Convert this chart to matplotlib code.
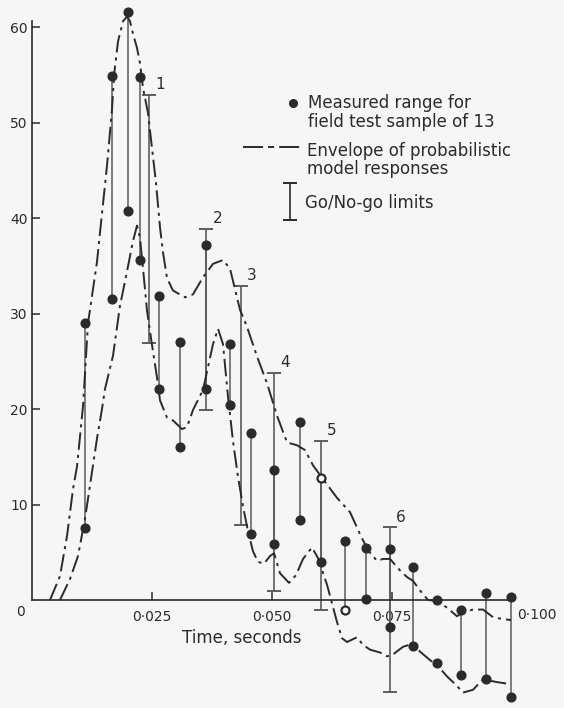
import matplotlib
matplotlib.use("Agg")
import matplotlib.pyplot as plt

# Envelope of probabilistic model responses: upper bound
upper_t = [0.00375, 0.00583, 0.00729, 0.00854, 0.00938, 0.01063, 0.01167, 0.01354,
           0.01417, 0.01563, 0.01667, 0.01708, 0.01792, 0.01896, 0.01979, 0.02042,
           0.02104, 0.02188, 0.02250, 0.02313, 0.02417, 0.02500, 0.02583, 0.02667,
           0.02729, 0.02813, 0.02938, 0.03188, 0.03354, 0.03563, 0.03771, 0.03979,
           0.04125, 0.04333, 0.04479, 0.04688, 0.04896, 0.05104, 0.05313, 0.05521,
           0.05688, 0.05854, 0.06042, 0.06354, 0.06625, 0.06833, 0.07000, 0.07188,
           0.07313, 0.07458, 0.07667, 0.07813, 0.07938, 0.08083, 0.08250, 0.08438,
           0.08646, 0.08854, 0.08979, 0.09188, 0.09396, 0.09604, 0.09813, 0.09979]
upper_v = [0.0, 2.5, 6.7, 11.6, 14.0, 20.3, 29.0, 35.4,
           38.5, 45.5, 51.4, 54.9, 58.5, 60.6, 61.1, 60.6,
           59.3, 57.8, 56.2, 53.6, 51.0, 47.3, 43.7, 39.0,
           36.4, 33.7, 32.4, 31.7, 32.0, 33.8, 35.2, 35.6,
           34.7, 30.4, 28.6, 25.5, 22.7, 19.3, 16.5, 16.2,
           15.7, 14.1, 12.8, 10.7, 9.2, 6.9, 5.2, 4.1,
           4.3, 4.3, 3.1, 2.4, 2.0, 1.0, 0.0, -0.1,
           -0.8, -1.7, -1.3, -1.0, -1.0, -1.8, -2.0, -2.1]

# Envelope of probabilistic model responses: lower bound
lower_t = [0.00583, 0.00792, 0.00958, 0.01104, 0.01250, 0.01354, 0.01458, 0.01521,
           0.01688, 0.01833, 0.01979, 0.02104, 0.02188, 0.02250, 0.02313, 0.02396,
           0.02500, 0.02604, 0.02667, 0.02813, 0.02938, 0.03125, 0.03229, 0.03354,
           0.03563, 0.03771, 0.03875, 0.03979, 0.04083, 0.04188, 0.04292, 0.04396,
           0.04500, 0.04604, 0.04708, 0.04833, 0.04958, 0.05042, 0.05167, 0.05354,
           0.05500, 0.05646, 0.05833, 0.05958, 0.06146, 0.06354, 0.06458, 0.06563,
           0.06771, 0.06896, 0.07042, 0.07250, 0.07396, 0.07521, 0.07729, 0.07917,
           0.08083, 0.08292, 0.08438, 0.08646, 0.08854, 0.08979, 0.09188, 0.09396,
           0.09688, 0.09958]
lower_v = [0.0, 2.2, 4.6, 8.5, 13.4, 16.9, 20.0, 22.1,
           25.6, 30.8, 34.4, 37.6, 39.2, 37.9, 34.7, 30.3,
           26.7, 23.3, 20.9, 19.1, 18.8, 17.9, 18.1, 19.9,
           22.0, 26.8, 28.4, 26.8, 21.3, 16.6, 12.9, 9.8,
           7.2, 5.1, 4.0, 3.8, 4.6, 4.9, 2.8, 1.8,
           2.6, 4.3, 5.5, 4.4, 1.6, -2.3, -4.0, -4.4,
           -3.9, -4.7, -5.2, -5.5, -5.9, -5.7, -4.9, -4.6,
           -5.4, -6.3, -6.8, -8.0, -9.0, -9.7, -9.4, -8.3,
           -8.6, -8.8]

# Measured range for the field test sample (min / max at each time)
range_t = [0.0110, 0.0167, 0.0200, 0.0225, 0.0265, 0.0308, 0.0363, 0.0413,
           0.0456, 0.0504, 0.0558, 0.0602, 0.0652, 0.0696, 0.0746, 0.0794,
           0.0894, 0.0946, 0.0998]
range_lo = [7.5, 31.5, 40.7, 35.6, 22.1, 16.0, 22.1, 20.4,
            6.9, 5.9, 8.4, 4.0, -1.1, 0.1, -2.8, -4.8,
            -7.9, -8.3, -10.2]
range_hi = [29.0, 54.9, 61.6, 54.8, 31.8, 27.0, 37.2, 26.8,
            17.5, 13.6, 18.6, 12.8, 6.2, 5.4, 5.3, 3.5,
            -1.0, 0.7, 0.3]

# Single measurements drawn without a stem
single_t = [0.0844, 0.0844]
single_v = [0.0, -6.6]

# Measurements drawn as hollow points
open_t = [0.0602, 0.0652]
open_v = [12.8, -1.1]

# Go/No-go limits
limit_id = ["1", "2", "3", "4", "5", "6"]
limit_t = [0.0244, 0.0363, 0.0435, 0.0504, 0.0602, 0.0746]
limit_lo = [26.9, 19.9, 7.9, 0.9, -1.1, -9.6]
limit_hi = [52.9, 38.9, 32.9, 23.8, 16.7, 7.6]

# Axis ticks
yticks = [10, 20, 30, 40, 50, 60]
xticks = [0.025, 0.050, 0.075]
xtick_labels = ["0·025", "0·050", "0·075"]

INK = "#2b2b2b"
STEM = "#5c5c5c"
BG = "#f6f6f6"
DASHDOT = (9, 2.6, 1.6, 2.6)
TXT = 12

plt.rcParams["font.family"] = ["DejaVu Sans"]

fig = plt.figure(figsize=(5.64, 7.08), dpi=100, facecolor=BG)
ax = fig.add_axes([0, 0, 1, 1], facecolor=BG)
ax.set_xlim(-0.006667, 0.110833)
ax.set_ylim(-11.31, 62.83)

# Axes lines
for side in ("top", "right"):
    ax.spines[side].set_visible(False)
ax.spines["left"].set_position(("data", 0))
ax.spines["bottom"].set_position(("data", 0))
ax.spines["left"].set_bounds(0, 60.6)
ax.spines["bottom"].set_bounds(0, 0.0998)
for side in ("left", "bottom"):
    ax.spines[side].set_color(INK)
    ax.spines[side].set_linewidth(1.2)

ax.set_yticks(yticks)
ax.set_yticklabels([str(v) for v in yticks])
ax.set_xticks(xticks)
ax.set_xticklabels(xtick_labels)
ax.tick_params(axis="y", direction="in", length=6, width=1.1, pad=3,
               colors=INK, labelsize=10)
ax.tick_params(axis="x", direction="in", length=6, width=1.1, pad=7,
               colors=INK, labelsize=10)
ax.text(-0.0023, -1.25, "0", ha="center", va="center", fontsize=10, color=INK)
ax.text(0.1052, -1.6, "0·100", ha="center", va="center", fontsize=10, color=INK)
ax.text(0.0437, -3.95, "Time, seconds", ha="center", va="center",
        fontsize=TXT, color=INK)

# Envelopes
ax.plot(upper_t, upper_v, color=INK, lw=1.4, dashes=DASHDOT, zorder=3)
ax.plot(lower_t, lower_v, color=INK, lw=1.4, dashes=DASHDOT, zorder=3)

# Measured ranges
ax.vlines(range_t, range_lo, range_hi, color=STEM, lw=1.1, zorder=2)
ax.plot(range_t, range_lo, "o", color=INK, ms=6.3, zorder=5)
ax.plot(range_t, range_hi, "o", color=INK, ms=6.3, zorder=5)
ax.plot(single_t, single_v, "o", color=INK, ms=6.3, zorder=5)
ax.plot(open_t, open_v, "o", mfc=BG, mec=INK, mew=1.3, ms=5.5, zorder=6)

# Go/No-go limits
ax.vlines(limit_t, limit_lo, limit_hi, color=STEM, lw=1.2, zorder=2)
ax.plot(limit_t, limit_lo, "_", color=STEM, ms=10, mew=1.4, zorder=2)
ax.plot(limit_t, limit_hi, "_", color=STEM, ms=10, mew=1.4, zorder=2)
for lab, t, hi in zip(limit_id, limit_t, limit_hi):
    ax.annotate(lab, (t, hi), xytext=(8, 7.5), textcoords="offset points",
                ha="center", va="center", fontsize=11, color=INK)

# Key
tr = ax.transAxes
ax.plot([0.5195], [0.8545], "o", color=INK, ms=5.5, transform=tr)
ax.text(0.546, 0.8545, "Measured range for", transform=tr, ha="left",
        va="center", fontsize=TXT, color=INK)
ax.text(0.546, 0.8270, "field test sample of 13", transform=tr, ha="left",
        va="center", fontsize=TXT, color=INK)
ax.plot([0.431, 0.532], [0.7924, 0.7924], color=INK, lw=1.4,
        dashes=(10.3, 2.6, 3.1, 2.6), transform=tr)
ax.text(0.5443, 0.7867, "Envelope of probabilistic", transform=tr, ha="left",
        va="center", fontsize=TXT, color=INK)
ax.text(0.5443, 0.7620, "model responses", transform=tr, ha="left",
        va="center", fontsize=TXT, color=INK)
ax.plot([0.5142, 0.5142], [0.6893, 0.7415], color=INK, lw=1.2, transform=tr)
ax.plot([0.5142, 0.5142], [0.6893, 0.7415], "_", color=INK, ms=10, mew=1.4,
        transform=tr)
ax.text(0.5408, 0.7133, "Go/No-go limits", transform=tr, ha="left",
        va="center", fontsize=TXT, color=INK)

fig.savefig("out.png", dpi=100, facecolor=BG)
